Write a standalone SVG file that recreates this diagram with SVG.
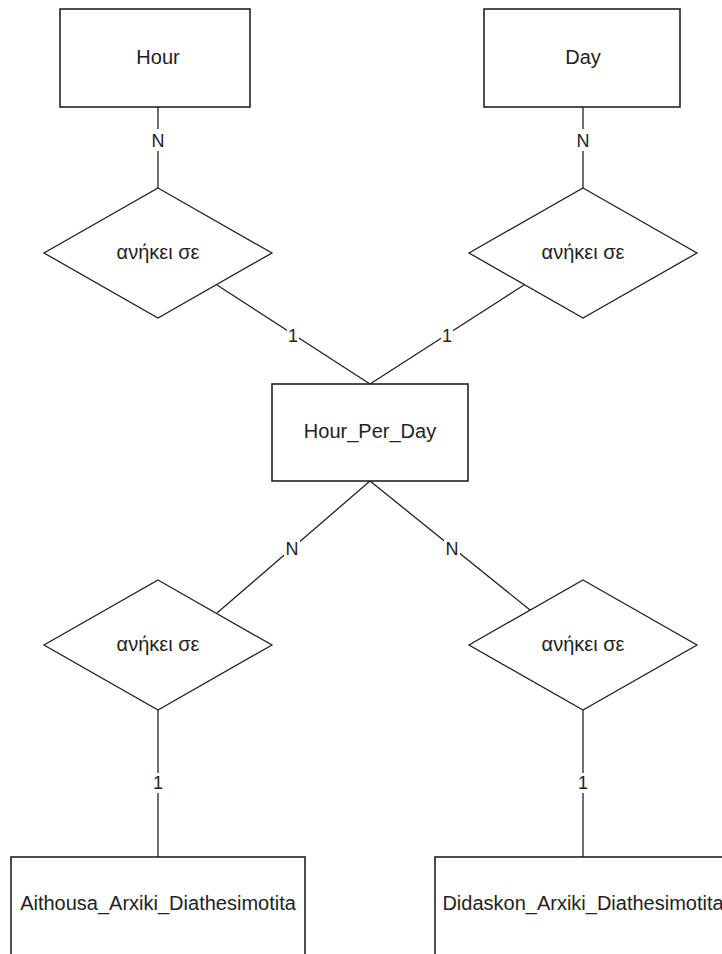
<svg xmlns="http://www.w3.org/2000/svg" width="722" height="954" viewBox="0 0 722 954">
<style>
.ent{fill:#fff;stroke:#222;stroke-width:1.6}
.rel{fill:#fff;stroke:#222;stroke-width:1.3}
.lnk{stroke:#222;stroke-width:1.3;fill:none}
.t{font-family:"Liberation Sans",Arial,Helvetica,sans-serif;font-size:20px;fill:#222;text-anchor:middle}
.lbl{font-family:"Liberation Sans",Arial,Helvetica,sans-serif;font-size:18px;fill:#222;text-anchor:middle}
.bg{fill:#fff}
</style>
<rect width="722" height="954" fill="#fff"/>
<g id="connectors">
  <line class="lnk" x1="158" y1="107" x2="158" y2="188"/>
  <line class="lnk" x1="583" y1="107" x2="583" y2="188"/>
  <line class="lnk" x1="217" y1="285" x2="370" y2="384"/>
  <line class="lnk" x1="524" y1="285" x2="370" y2="384"/>
  <line class="lnk" x1="370" y1="481" x2="217" y2="613"/>
  <line class="lnk" x1="370" y1="481" x2="530" y2="610"/>
  <line class="lnk" x1="158" y1="710" x2="158" y2="857"/>
  <line class="lnk" x1="583" y1="710" x2="583" y2="857"/>
  <rect class="bg" x="150" y="129" width="16" height="22"/>
  <text class="lbl" x="158" y="147">N</text>
  <rect class="bg" x="575" y="129" width="16" height="22"/>
  <text class="lbl" x="583" y="147">N</text>
  <rect class="bg" x="287" y="325" width="12" height="20"/>
  <text class="lbl" x="293" y="342">1</text>
  <rect class="bg" x="441" y="325" width="12" height="20"/>
  <text class="lbl" x="447" y="342">1</text>
  <rect class="bg" x="284" y="537" width="16" height="22"/>
  <text class="lbl" x="292" y="555">N</text>
  <rect class="bg" x="444" y="537" width="16" height="22"/>
  <text class="lbl" x="452" y="555">N</text>
  <rect class="bg" x="152" y="773" width="12" height="20"/>
  <text class="lbl" x="158" y="789">1</text>
  <rect class="bg" x="577" y="773" width="12" height="20"/>
  <text class="lbl" x="583" y="789">1</text>
</g>
<g id="hour">
  <rect class="ent" x="60" y="9" width="190" height="98"/>
  <text class="t" x="158" y="64">Hour</text>
</g>
<g id="day">
  <rect class="ent" x="484" y="9" width="196" height="98"/>
  <text class="t" x="583" y="64">Day</text>
</g>
<g id="rel-hour">
  <polygon class="rel" points="158,188 272,253 158,318 44,253"/>
  <text class="t" x="158" y="259">ανήκει σε</text>
</g>
<g id="rel-day">
  <polygon class="rel" points="583,188 697,253 583,318 469,253"/>
  <text class="t" x="583" y="259">ανήκει σε</text>
</g>
<g id="hour-per-day">
  <rect class="ent" x="272" y="384" width="196" height="97"/>
  <text class="t" x="370" y="438">Hour_Per_Day</text>
</g>
<g id="rel-aithousa">
  <polygon class="rel" points="158,580 272,645 158,710 44,645"/>
  <text class="t" x="158" y="651">ανήκει σε</text>
</g>
<g id="rel-didaskon">
  <polygon class="rel" points="583,580 697,645 583,710 469,645"/>
  <text class="t" x="583" y="651">ανήκει σε</text>
</g>
<g id="aithousa">
  <rect class="ent" x="11" y="857" width="294" height="110"/>
  <text class="t" x="158" y="910">Aithousa_Arxiki_Diathesimotita</text>
</g>
<g id="didaskon">
  <rect class="ent" x="435" y="857" width="296" height="110"/>
  <text class="t" x="583" y="910">Didaskon_Arxiki_Diathesimotita</text>
</g>
</svg>
